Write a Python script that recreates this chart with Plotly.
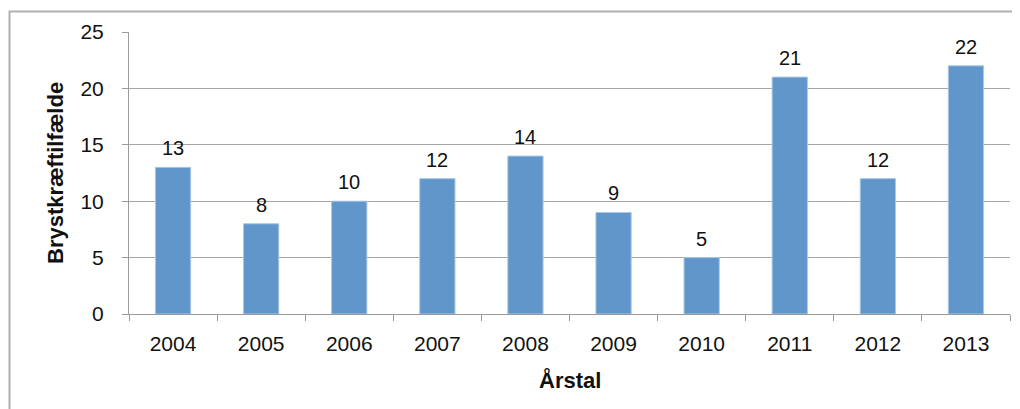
import plotly.graph_objects as go

years = ["2004", "2005", "2006", "2007", "2008", "2009", "2010", "2011", "2012", "2013"]
cases = [13, 8, 10, 12, 14, 9, 5, 21, 12, 22]
y_ticks = [0, 5, 10, 15, 20, 25]

OFF = 8  # page body margin
W, H = 1020 - OFF, 409 - OFF
L, R, T, B = 129 - OFF, 10, 32 - OFF, 95
pw, ph = W - L - R, H - T - B

fig = go.Figure(go.Bar(
    x=years, y=cases,
    marker=dict(color="#6096CA", line=dict(color="#A9C7E6", width=1)),
    width=0.4, hoverinfo="x+y",
))

# value labels: positioned by category index and value on the data axes
label_annots = [
    dict(x=i, y=v, xref="x", yref="y", text=str(v), showarrow=False,
         yshift=19, xanchor="center", yanchor="middle",
         font=dict(family="Liberation Sans, Arial", size=20, color="#111"))
    for i, v in enumerate(cases)
]

fig.update_layout(
    width=W, height=H, margin=dict(l=L, r=R, t=T, b=B, autoexpand=False),
    paper_bgcolor="white", plot_bgcolor="white", showlegend=False,
    font=dict(family="Liberation Sans, Arial", size=20, color="#111"),
    xaxis=dict(type="category", categoryorder="array", categoryarray=years,
               tickson="boundaries", ticks="outside", ticklen=6,
               tickcolor="#9a9a9a", showline=True, linecolor="#9a9a9a", linewidth=1,
               showgrid=False, tickfont=dict(size=21), ticklabelstandoff=11,
               tickangle=0, automargin=False),
    yaxis=dict(range=[0, 25], tickvals=y_ticks, ticks="outside", ticklen=6,
               tickcolor="#9a9a9a", showline=True, linecolor="#9a9a9a", linewidth=1,
               showgrid=True, gridcolor="#a6a6a6", gridwidth=1, zeroline=False,
               tickfont=dict(size=21), ticklabelstandoff=14, automargin=False),
    annotations=label_annots + [
        dict(text="<b>Årstal</b>", xref="paper", yref="paper", x=0.5,
             y=-(380 - 314) / ph, xanchor="center", yanchor="middle",
             showarrow=False, font=dict(size=22, color="#111")),
        dict(text="<b>Brystkræftilfælde</b>", xref="paper", yref="paper",
             x=(55 - 129) / pw, y=0.5, xanchor="center", yanchor="middle",
             textangle=-90, showarrow=False, font=dict(size=22, color="#111")),
    ],
    shapes=[dict(type="rect", xref="paper", yref="paper",
                 x0=(9.5 - 129) / pw, x1=(1040 - 129) / pw,
                 y0=-(430 - 314) / ph, y1=(314 - 11.5) / ph,
                 line=dict(color="#b0b0b0", width=2), layer="below")],
)

fig.write_html("out.html")
